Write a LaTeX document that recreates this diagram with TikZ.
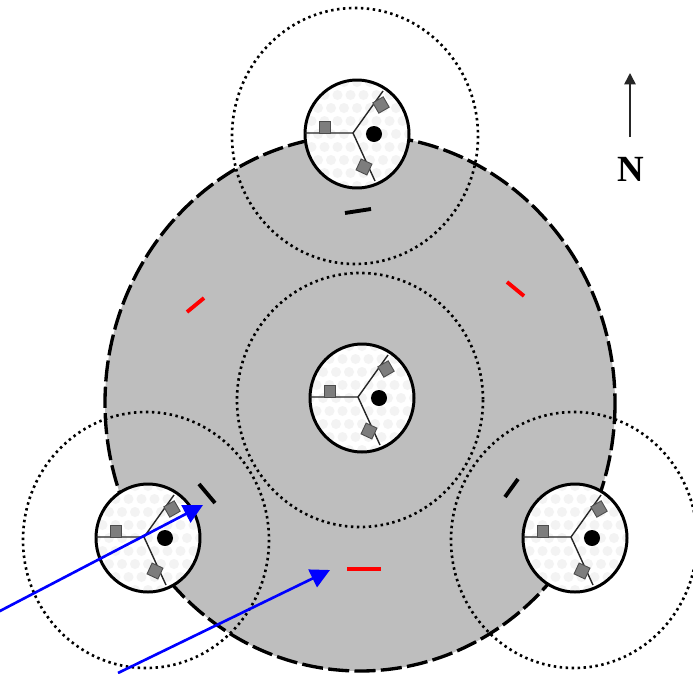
\documentclass[tikz,border=0pt]{standalone}
\usepackage{fontspec}
\setmainfont{Liberation Serif}
\usepackage{tikz}
\usetikzlibrary{arrows.meta,positioning,calc}
\definecolor{ringgray}{RGB}{190,190,190}
\definecolor{dishgray}{RGB}{243,243,243}
\definecolor{panelgray}{RGB}{125,125,125}
\tikzset{
 reach/.style={line width=1.5pt,dash pattern=on 1.4pt off 2pt},
 spoke/.style={line width=0.8pt,black!85},
 panel/.style={fill=panelgray,draw=black!70,line width=0.5pt},
 bar/.style={line width=2.2pt},
 probe/.style={-{Triangle[length=11pt,width=11pt]},blue,line width=1.5pt}
}
\begin{document}
\begin{tikzpicture}[x=0.02cm,y=-0.02cm]
 \clip (0,0) rectangle (693,673);
 \fill[white] (0,0) rectangle (693,673);
 \fill[ringgray] (360,403) ellipse [x radius=255,y radius=268];
 \draw[line width=1.9pt,dash pattern=on 12pt off 3pt] (360,403) ellipse [x radius=255,y radius=268];
 \foreach \cx/\cy/\rx/\ry in {355/136/123/128,360/400/123/127,146/540/123/128,574/540/123/128}
  \draw[reach] (\cx,\cy) ellipse [x radius=\rx,y radius=\ry];
 \foreach \cx/\cy in {357/134,362/398,148/538,575/538} {
  \begin{scope}[shift={(\cx,\cy)}]
  \fill[white] (0,0) ellipse [x radius=52,y radius=54];
  \begin{scope}
  \clip (0,0) ellipse [x radius=52,y radius=54];
  \foreach \i in {-5,...,5}
   \foreach \j in {-5,...,5}
    \fill[dishgray] ($(\i*13+\j*6.5,\j*13)$) circle (5);
  \end{scope}
  \draw[line width=1.7pt] (0,0) ellipse [x radius=52,y radius=54];
  \draw[spoke] (-52,-1) -- (-4,-1) -- (26,-43);
  \draw[spoke] (-4,-1) -- (18,47);
  \draw[panel] (-38,-13) rectangle (-27,-1);
  \draw[panel,rotate around={30:(24,-29)}] (18,-35) rectangle (30,-23);
  \draw[panel,rotate around={-25:(7,33)}] (1,27) rectangle (13,39);
  \fill (17,0) circle (8);
  \end{scope}
 }
 \draw[bar] (345,213) -- (371,209);
 \draw[bar] (199,484) -- (215,503);
 \draw[bar] (505,497) -- (518,479);
 \draw[bar,red] (187,312) -- (204,298);
 \draw[bar,red] (507,282) -- (524,296);
 \draw[bar,red] (347,569) -- (381,569);
 \coordinate (probeA) at (-2,612);
 \coordinate (cellA) at (203,505);
 \coordinate (probeB) at (118,673);
 \coordinate (sectorB) at (330,570);
 \draw[probe] (probeA) -- (cellA);
 \draw[probe] (probeB) -- (sectorB);
 \node[font=\fontsize{21}{24}\selectfont\bfseries,inner sep=0pt] (north) at (631,169) {N};
 \coordinate (northtail) at (630,137);
 \coordinate (northhead) at (630,73);
 \draw[-{Triangle[length=6.5pt,width=6.5pt]},line width=0.9pt,black!85] (northtail) -- (northhead);
\end{tikzpicture}
\end{document}
